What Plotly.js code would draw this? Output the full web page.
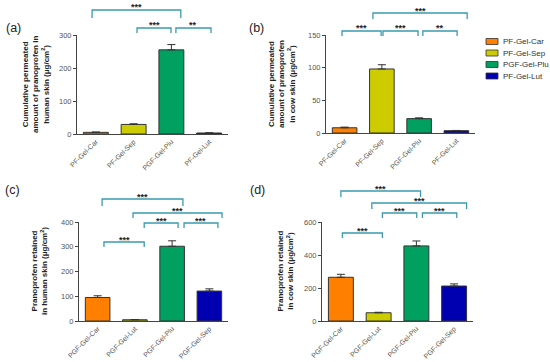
<!DOCTYPE html>
<html>
<head>
<meta charset="utf-8">
<script src="https://cdn.plot.ly/plotly-3.0.1.min.js"></script>
<style>html,body{margin:0;padding:0;background:#fff;}#chart{width:550px;height:362px;}</style>
</head>
<body>
<div id="chart"></div>
<script>
// ---------------- DATA ----------------
const catsA = ['PF-Gel-Car', 'PF-Gel-Sep', 'PGF-Gel-Plu', 'PF-Gel-Lut'];
const valsA = [5, 29, 255, 3];
const errA  = [1, 2, 16, 0.5];

const catsB = ['PF-Gel-Car', 'PF-Gel-Sep', 'PGF-Gel-Plu', 'PF-Gel-Lut'];
const valsB = [8, 98, 22, 3.5];
const errB  = [1, 6.5, 1.2, 0.4];

const catsC = ['PGF-Gel-Car', 'PGF-Gel-Lut', 'PGF-Gel-Plu', 'PGF-Gel-Sep'];
const valsC = [95, 5, 302, 121];
const errC  = [7, 1, 22, 9];

const catsD = ['PGF-Gel-Car', 'PGF-Gel-Lut', 'PGF-Gel-Plu', 'PGF-Gel-Sep'];
const valsD = [265, 50, 455, 212];
const errD  = [18, 3, 30, 13];

const legendLabels = ['PF-Gel-Car', 'PF-Gel-Sep', 'PGF-Gel-Plu', 'PF-Gel-Lut'];

const sigA = [[0, 2, '***'], [1, 2, '***'], [2, 3, '**']];
const sigB = [[1, 3, '***'], [0, 1, '***'], [1, 2, '***'], [2, 3, '**']];
const sigC = [[0, 2, '***'], [1, 3, '***'], [1, 2, '***'], [2, 3, '***'], [0, 1, '***']];
const sigD = [[0, 2, '***'], [1, 3, '***'], [1, 2, '***'], [2, 3, '***'], [0, 1, '***']];

const yTitleA = 'Cumulative permeated<br>amount of pranoprofen in<br>human skin (μg/cm<sup>2</sup>)';
const yTitleB = 'Cumulative permeated<br>amount of pranoprofen<br>in cow skin (μg/cm<sup>2</sup>)';
const yTitleC = 'Pranoprofen retained<br>in human skin (μg/cm<sup>2</sup>)';
const yTitleD = 'Pranoprofen retained<br>in cow skin (μg/cm<sup>2</sup>)';

// ---------------- STYLE / GEOMETRY ----------------
const colors = ['#FF8000', '#CCCC00', '#00A060', '#0000B0'];
const bracketColor = '#3A9BB0';
const W = 550, H = 362;
const PX = p => p / W;
const PY = p => 1 - p / H;

const geoA = [[10, 8, -0.10, 0.25], [28, 5, 0.09, -0.01], [28, 5, 0.12, 0.05]];
const geoB = [[13, 6, -0.24, 0.29], [31, 5, -0.07, -0.02], [31, 5, 0.03, -0.03], [31, 5, 0.10, 0.02]];
const geoC = [[199, 7, 0.12, 0.29], [213, 5, -0.05, 0.34], [223, 5, 0.25, 0.16], [223, 5, 0.32, 0.23], [242, 5, 0.17, 0.25]];
const geoD = [[191, 6, 0.0, 0.11], [203, 6, -0.18, 0.33], [213, 5, 0.10, 0.01], [213, 5, 0.16, 0.07], [233, 5, 0.04, 0.10]];

const panels = [
  {cats: catsA, vals: valsA, err: errA, sig: sigA, geo: geoA, xa: 'x',  ya: 'y',  xd: [77, 228],  yd: [35, 134],  max: 300, dtick: 100, title: yTitleA, tx: 36.5, label: '(a)', lx: 4,   ly: 28},
  {cats: catsB, vals: valsB, err: errB, sig: sigB, geo: geoB, xa: 'x2', ya: 'y2', xd: [326, 475], yd: [35, 133],  max: 150, dtick: 50,  title: yTitleB, tx: 282, label: '(b)', lx: 247, ly: 28},
  {cats: catsC, vals: valsC, err: errC, sig: sigC, geo: geoC, xa: 'x3', ya: 'y3', xd: [79, 228],  yd: [222, 321], max: 400, dtick: 100, title: yTitleC, tx: 39.5, label: '(c)', lx: 3,   ly: 190},
  {cats: catsD, vals: valsD, err: errD, sig: sigD, geo: geoD, xa: 'x4', ya: 'y4', xd: [322, 473], yd: [222, 321], max: 600, dtick: 200, title: yTitleD, tx: 285, label: '(d)', lx: 248, ly: 190}
];

const traces = [];
const layout = {
  width: W, height: H,
  margin: {l: 0, r: 0, t: 0, b: 0},
  paper_bgcolor: '#fff', plot_bgcolor: 'rgba(0,0,0,0)',
  showlegend: false,
  font: {family: 'Liberation Sans, Arial, sans-serif', color: '#222'},
  bargap: 0.34,
  shapes: [], annotations: []
};

panels.forEach((p, k) => {
  traces.push({
    type: 'bar', x: p.cats, y: p.vals, xaxis: p.xa, yaxis: p.ya,
    marker: {color: colors, line: {color: '#333', width: 1}},
    error_y: {type: 'data', symmetric: false, array: p.err, arrayminus: p.err.map(() => 0),
              color: '#333', thickness: 1, width: 4},
    hoverinfo: 'skip'
  });
  const xk = 'xaxis' + (k ? k + 1 : ''), yk = 'yaxis' + (k ? k + 1 : '');
  layout[xk] = {
    domain: [PX(p.xd[0]), PX(p.xd[1])], anchor: p.ya, type: 'category',
    range: [-0.5, 3.5], showline: true, linecolor: '#444', linewidth: 1,
    ticks: '', tickangle: -45, tickfont: {size: 7, color: '#555'},
    showgrid: false, zeroline: false, fixedrange: true, automargin: false
  };
  layout[yk] = {
    domain: [PY(p.yd[1]), PY(p.yd[0])], anchor: p.xa,
    range: [0, p.max], dtick: p.dtick, tick0: 0,
    showline: true, linecolor: '#444', linewidth: 1,
    ticks: 'outside', ticklen: 3, tickwidth: 1, tickcolor: '#444',
    tickfont: {size: 7.5, color: '#555'},
    showgrid: false, zeroline: false, fixedrange: true, automargin: false
  };
  layout.annotations.push({
    xref: 'paper', yref: 'paper', x: PX(p.tx), y: PY((p.yd[0] + p.yd[1]) / 2),
    xanchor: 'center', yanchor: 'middle', textangle: -90, showarrow: false,
    text: '<b>' + p.title + '</b>', font: {size: 8, color: '#222'}
  });
  layout.annotations.push({
    xref: 'paper', yref: 'paper', x: PX(p.lx), y: PY(p.ly),
    xanchor: 'left', yanchor: 'middle', showarrow: false,
    text: p.label, font: {size: 12.5, color: '#222'}
  });
  p.sig.forEach((s, m) => {
    const g = p.geo[m];
    const x0 = s[0] + g[2], x1 = s[1] + g[3];
    const yl = PY(g[0]), yd = PY(g[0] + g[1]);
    layout.shapes.push({
      type: 'path', xref: p.xa, yref: 'paper',
      path: `M${x0},${yd} L${x0},${yl} L${x1},${yl} L${x1},${yd}`,
      line: {color: bracketColor, width: 1.3}
    });
    layout.annotations.push({
      xref: p.xa, yref: 'paper', x: (x0 + x1) / 2, y: PY(g[0] - 2.5),
      xanchor: 'center', yanchor: 'middle', showarrow: false,
      text: '<b>' + s[2] + '</b>', font: {size: 9, color: '#222'}
    });
  });
});

legendLabels.forEach((lab, i) => {
  const cy = 41.5 + i * 11.5;
  layout.shapes.push({
    type: 'rect', xref: 'paper', yref: 'paper',
    x0: PX(486), x1: PX(498), y0: PY(cy + 3), y1: PY(cy - 3),
    fillcolor: colors[i], line: {color: '#333', width: 0.8}
  });
  layout.annotations.push({
    xref: 'paper', yref: 'paper', x: PX(501), y: PY(cy),
    xanchor: 'left', yanchor: 'middle', showarrow: false,
    text: lab, font: {size: 8, color: '#333'}
  });
});

Plotly.newPlot('chart', traces, layout, {staticPlot: true, displayModeBar: false});
</script>
</body>
</html>
